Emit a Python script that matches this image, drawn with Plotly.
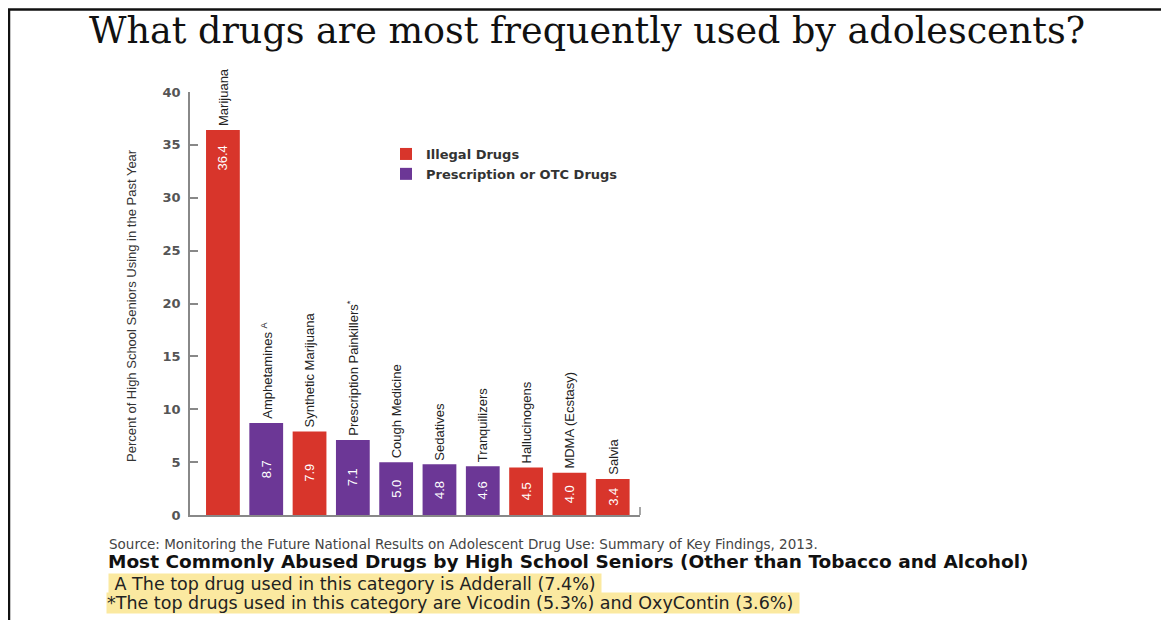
import plotly.graph_objects as go

# ---- data ----
drugs = ["Marijuana", "Amphetamines", "Synthetic Marijuana", "Prescription Painkillers",
         "Cough Medicine", "Sedatives", "Tranquilizers", "Hallucinogens",
         "MDMA (Ecstasy)", "Salvia"]
drug_labels = ["Marijuana", "Amphetamines <sup>A</sup>", "Synthetic Marijuana",
               "Prescription Painkillers<sup>*</sup>", "Cough Medicine", "Sedatives",
               "Tranquilizers", "Hallucinogens", "MDMA (Ecstasy)", "Salvia"]
percent = [36.4, 8.7, 7.9, 7.1, 5.0, 4.8, 4.6, 4.5, 4.0, 3.4]
drug_type = ["Illegal Drugs", "Prescription or OTC Drugs", "Illegal Drugs",
             "Prescription or OTC Drugs", "Prescription or OTC Drugs",
             "Prescription or OTC Drugs", "Prescription or OTC Drugs",
             "Illegal Drugs", "Illegal Drugs", "Illegal Drugs"]
y_ticks = [0, 5, 10, 15, 20, 25, 30, 35, 40]

title_text = "What drugs are most frequently used by adolescents?"
y_title = "Percent of High School Seniors Using in the Past Year"
source_text = ("Source: Monitoring the Future National Results on Adolescent Drug Use: "
               "Summary of Key Findings, 2013.")
subtitle_text = "Most Commonly Abused Drugs by High School Seniors (Other than Tobacco and Alcohol)"
note_a = "A The top drug used in this category is Adderall (7.4%)"
note_b = "*The top drugs used in this category are Vicodin (5.3%) and OxyContin (3.6%)"

colors = {"Illegal Drugs": "#d8352b", "Prescription or OTC Drugs": "#6c3796"}

# ---- layout geometry (page pixels; the page body adds an 8px margin) ----
OFF = 8
W, H = 1169 - 2 * OFF, 628 - 2 * OFF
L, R, T, B = 190 - OFF, 640 - OFF, 92 - OFF, 515 - OFF


def px2x(px):
    return (px - OFF - L) / (R - L)


def py2y(py):
    return (B - (py - OFF)) / (B - T)


fig = go.Figure()
for group in ["Illegal Drugs", "Prescription or OTC Drugs"]:
    xs = [d for d, t in zip(drugs, drug_type) if t == group]
    ys = [v for v, t in zip(percent, drug_type) if t == group]
    fig.add_trace(go.Bar(x=xs, y=ys, name=group, marker_color=colors[group],
                         marker_line_width=0, width=0.78))

annotations = []
for d, lab, v in zip(drugs, drug_labels, percent):
    annotations.append(dict(x=d, y=v, xref="x", yref="y", text=lab, textangle=-90,
                            showarrow=False, xanchor="center", yanchor="bottom", yshift=2,
                            font=dict(family="Liberation Sans, Arial", size=13, color="#222")))
    vy = v / 2 if v < 20 else v - 2.6
    annotations.append(dict(x=d, y=vy, xref="x", yref="y", text=f"{v:.1f}", textangle=-90,
                            showarrow=False, xanchor="center", yanchor="middle",
                            font=dict(family="Liberation Sans, Arial", size=13, color="white")))

annotations += [
    dict(x=px2x(587), y=py2y(30), xref="paper", yref="paper", text=title_text,
         showarrow=False, xanchor="center", yanchor="middle",
         font=dict(family="DejaVu Serif", size=36.5, color="#111")),
    dict(x=px2x(107), y=py2y(544), xref="paper", yref="paper", text=source_text,
         showarrow=False, xanchor="left", yanchor="middle",
         font=dict(family="DejaVu Sans", size=13.5, color="#444")),
    dict(x=px2x(106), y=py2y(561), xref="paper", yref="paper", text="<b>" + subtitle_text + "</b>",
         showarrow=False, xanchor="left", yanchor="middle",
         font=dict(family="DejaVu Sans", size=18.5, color="#111")),
    dict(x=px2x(106), y=py2y(603), xref="paper", yref="paper", text=note_b + "&nbsp;",
         showarrow=False, xanchor="left", yanchor="middle", bgcolor="#fbe9a0", borderpad=0,
         font=dict(family="DejaVu Sans", size=17.5, color="#222")),
    dict(x=px2x(108), y=py2y(584), xref="paper", yref="paper", text="&nbsp;" + note_a + "&nbsp;",
         showarrow=False, xanchor="left", yanchor="middle", bgcolor="#fbe9a0", borderpad=0,
         font=dict(family="DejaVu Sans", size=17.5, color="#222")),
    dict(x=px2x(131), y=py2y(306), xref="paper", yref="paper", text=y_title, textangle=-90,
         showarrow=False, xanchor="center", yanchor="middle",
         font=dict(family="Liberation Sans, Arial", size=13, color="#333")),
]

shapes = [
    dict(type="line", xref="paper", yref="paper", x0=px2x(8), x1=px2x(1169 + 5),
         y0=py2y(9.5), y1=py2y(9.5), line=dict(color="#111", width=2.5)),
    dict(type="line", xref="paper", yref="paper", x0=px2x(9), x1=px2x(9),
         y0=py2y(9.5), y1=py2y(640), line=dict(color="#111", width=2.5)),
    dict(type="line", xref="paper", yref="paper", x0=1, x1=1,
         y0=0, y1=py2y(515 - 8), line=dict(color="#888", width=1.5)),
]

fig.update_layout(
    width=W, height=H,
    margin=dict(l=L, r=W - R, t=T, b=H - B),
    paper_bgcolor="white", plot_bgcolor="white",
    barmode="overlay",
    showlegend=True,
    legend=dict(x=px2x(386), y=py2y(139), xanchor="left", yanchor="top",
                bgcolor="rgba(0,0,0,0)", itemwidth=30, tracegroupgap=0,
                font=dict(family="DejaVu Sans", size=13, color="#333", weight="bold")),
    annotations=annotations,
    shapes=shapes,
)
fig.update_xaxes(categoryorder="array", categoryarray=drugs, range=[-0.76, 9.63],
                 showticklabels=False, ticks="", showgrid=False, zeroline=False,
                 showline=True, linecolor="#888", linewidth=1.5)
fig.update_yaxes(range=[0, 40], tickvals=y_ticks, ticks="inside", ticklen=8,
                 tickcolor="#888", tickwidth=1.5, showgrid=False, zeroline=False,
                 showline=True, linecolor="#888", linewidth=1.5, ticklabelstandoff=5,
                 tickfont=dict(family="DejaVu Sans", size=13, color="#555", weight="bold"))

fig.write_html("out.html")
